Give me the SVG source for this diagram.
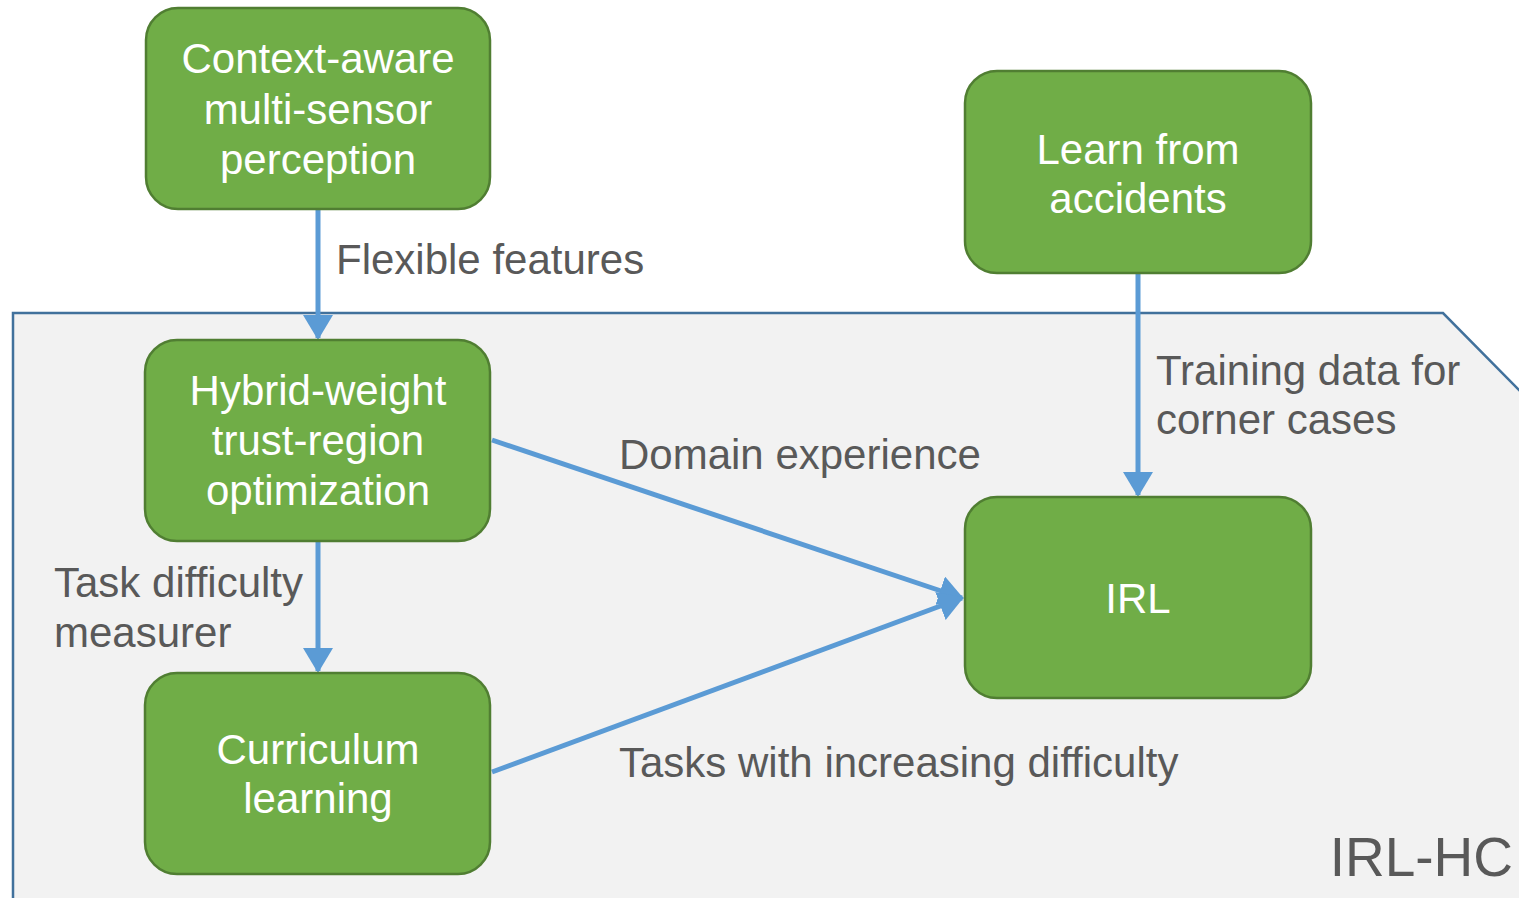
<svg xmlns="http://www.w3.org/2000/svg" width="1519" height="898" viewBox="0 0 1519 898">
<style>
.node{fill:#70AD47;stroke:#507E32;stroke-width:2.5}
.nt{font-family:"Liberation Sans",Arial,sans-serif;font-size:42px;fill:#FFFFFF;text-anchor:middle}
.lb{font-family:"Liberation Sans",Arial,sans-serif;font-size:42px;fill:#595959}
.cn{stroke:#5B9BD5;stroke-width:5;fill:none;marker-end:url(#ah)}
</style>
<defs>
<marker id="ah" markerWidth="6" markerHeight="6" refX="4.6" refY="3" orient="auto" markerUnits="strokeWidth" viewBox="0 0 6 6">
<path d="M0,0 L5,3 L0,6 Z" fill="#5B9BD5"/>
</marker>
</defs>
<rect width="1519" height="898" fill="#FFFFFF"/>
<g id="container">
<path d="M13,905 L13,313 L1443,313 L1525,396 L1525,905 Z" fill="#F2F2F2" stroke="#41719C" stroke-width="2.5"/>
<text x="1513" y="876" font-family="Liberation Sans,Arial,sans-serif" font-size="55" fill="#595959" text-anchor="end">IRL-HC</text>
</g>
<g id="connectors">
<line class="cn" x1="318" y1="210" x2="318" y2="338"/>
<line class="cn" x1="318" y1="542" x2="318" y2="671"/>
<line class="cn" x1="1138" y1="274" x2="1138" y2="495"/>
<line class="cn" x1="492" y1="440" x2="962" y2="598"/>
<line class="cn" x1="492" y1="772" x2="962" y2="598"/>
<text class="lb" x="336" y="274">Flexible features</text>
<text class="lb" x="1156" y="385">Training data for</text>
<text class="lb" x="1156" y="434">corner cases</text>
<text class="lb" x="619" y="469">Domain experience</text>
<text class="lb" x="54" y="597">Task difficulty</text>
<text class="lb" x="54" y="647">measurer</text>
<text class="lb" x="619" y="777">Tasks with increasing difficulty</text>
</g>
<g id="node-context">
<rect class="node" x="146" y="8" width="344" height="201" rx="32"/>
<text class="nt" x="318" y="73">Context-aware</text>
<text class="nt" x="318" y="124">multi-sensor</text>
<text class="nt" x="318" y="174">perception</text>
</g>
<g id="node-learn">
<rect class="node" x="965" y="71" width="346" height="202" rx="32"/>
<text class="nt" x="1138" y="164">Learn from</text>
<text class="nt" x="1138" y="213">accidents</text>
</g>
<g id="node-hybrid">
<rect class="node" x="145" y="340" width="345" height="201" rx="32"/>
<text class="nt" x="318" y="405">Hybrid-weight</text>
<text class="nt" x="318" y="455">trust-region</text>
<text class="nt" x="318" y="505">optimization</text>
</g>
<g id="node-curriculum">
<rect class="node" x="145" y="673" width="345" height="201" rx="32"/>
<text class="nt" x="318" y="764">Curriculum</text>
<text class="nt" x="318" y="813">learning</text>
</g>
<g id="node-irl">
<rect class="node" x="965" y="497" width="346" height="201" rx="32"/>
<text class="nt" x="1138" y="613">IRL</text>
</g>
</svg>
